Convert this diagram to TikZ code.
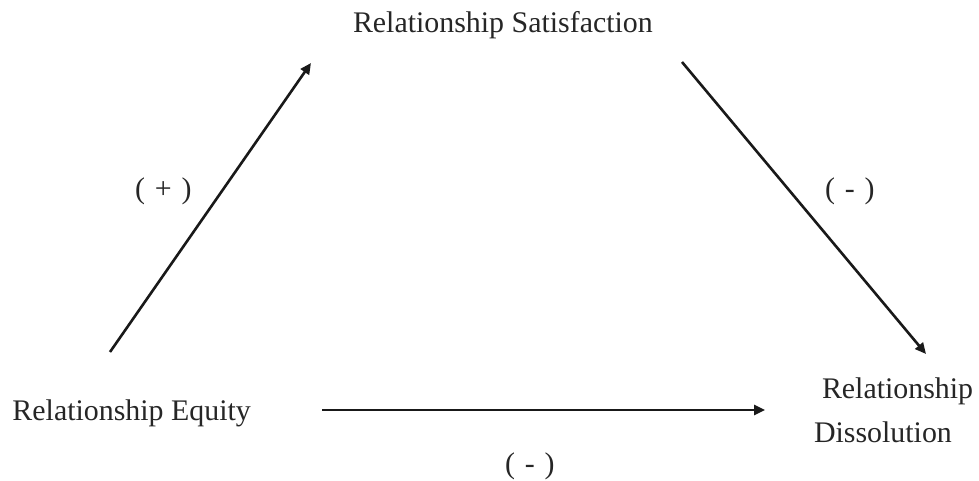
\documentclass[tikz,border=0pt]{standalone}
\usepackage{fontspec}
\setmainfont{Liberation Serif}
\usetikzlibrary{arrows.meta}
\newcommand{\gapsp}{\hspace{0.33em}}
\begin{document}
\begin{tikzpicture}[x=1pt,y=-1pt,
  lbl/.style={anchor=base west,inner sep=0pt,outer sep=0pt,font=\fontsize{29.9}{36}\selectfont,text=black!85},
  conn/.style={line width=2.6pt,draw=black!90,-{Triangle[length=11pt,width=10pt]}}]
\useasboundingbox (0,0) rectangle (979,481);
\node[lbl] (sat) at (353,33) {Relationship Satisfaction};
\node[lbl] (eq) at (12.5,420) {Relationship Equity};
\node[lbl] (dis1) at (822,398) {Relationship};
\node[lbl] (dis2) at (814,442) {Dissolution};
\node[lbl] (plus) at (135,198) {(\gapsp+\gapsp)};
\node[lbl] (minr) at (825,198) {(\gapsp-\gapsp)};
\node[lbl] (minb) at (505,473) {(\gapsp-\gapsp)};
\coordinate (a1s) at (110,352);
\coordinate (a1e) at (311,63);
\coordinate (a2s) at (682,62);
\coordinate (a2e) at (926,354);
\coordinate (a3s) at (322,410);
\coordinate (a3e) at (765,410);
\draw[conn] (a1s) -- (a1e);
\draw[conn] (a2s) -- (a2e);
\draw[conn] (a3s) -- (a3e);
\end{tikzpicture}
\end{document}
